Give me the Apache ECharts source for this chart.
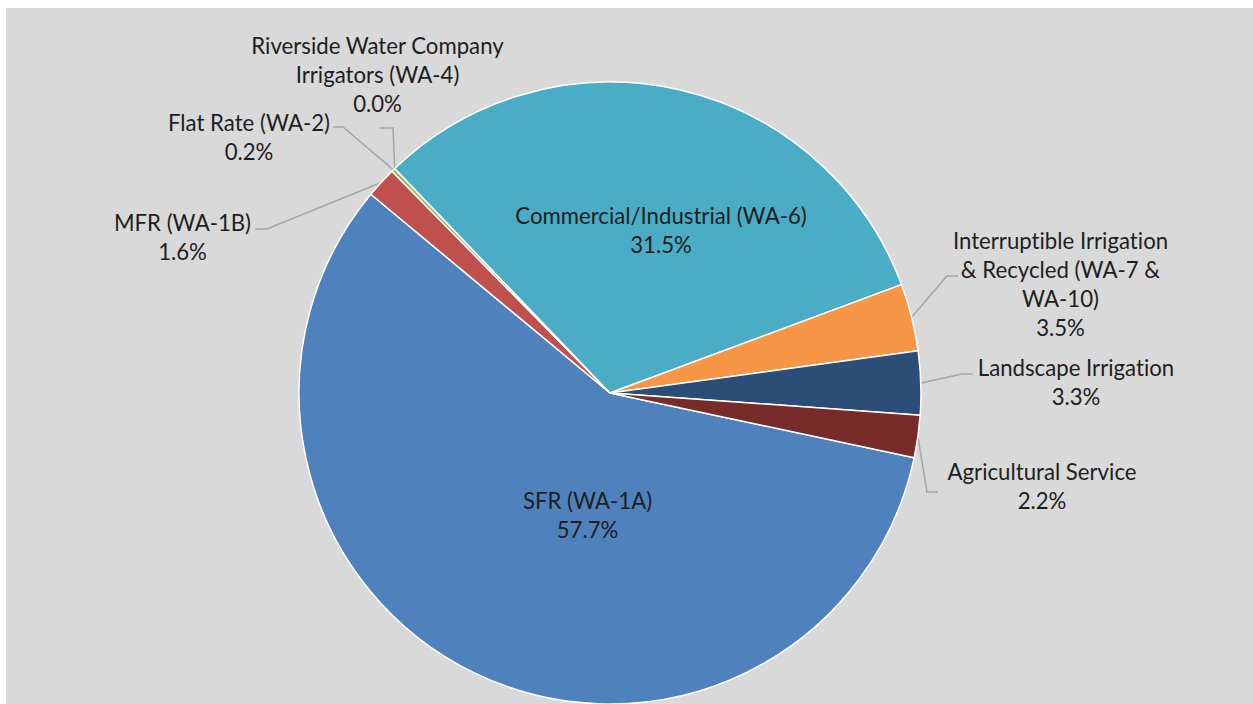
<!DOCTYPE html>
<html>
<head>
<meta charset="utf-8">
<script src="https://cdn.jsdelivr.net/npm/echarts@6/dist/echarts.min.js"></script>
<style>
  html, body { margin: 0; padding: 0; background: #ffffff; }
  #chart { position: absolute; left: 6px; top: 8px; width: 1247px; height: 696px; }
  #chart text { font-variant-ligatures: none; font-feature-settings: "liga" 0, "clig" 0; }
</style>
</head>
<body>
<div id="chart"></div>
<script>
// Share of water sales by customer class (percent)
const categories = [
  'SFR (WA-1A)',
  'MFR (WA-1B)',
  'Flat Rate (WA-2)',
  'Riverside Water Company\nIrrigators (WA-4)',
  'Commercial/Industrial (WA-6)',
  'Interruptible Irrigation\n& Recycled (WA-7 &\nWA-10)',
  'Landscape Irrigation',
  'Agricultural Service'
];
const shares = [57.7, 1.6, 0.2, 0.0, 31.5, 3.5, 3.3, 2.2];
const sliceColors = ['#4f81bd', '#c0504d', '#9bbb59', '#8064a2', '#4bacc6', '#f79646', '#2c4d75', '#772c2a'];

// Which labels sit inside their slice
const insideLabel = [true, false, false, false, true, false, false, false];

// Label block centres and leader-line elbow/end points (chart pixels)
const labelSpots = [
  { x: 581.5, y: 506.5 },
  { x: 176.5, y: 228.5, line: [[261, 221], [249, 221]] },
  { x: 243, y: 128.5, line: [[337, 119], [327, 119]] },
  { x: 371.5, y: 66.5, line: [[387, 120], [374, 120]] },
  { x: 655, y: 221.5 },
  { x: 1054.5, y: 275.5, line: [[941, 268], [952, 268]] },
  { x: 1070, y: 374, line: [[956, 366], [967, 366]] },
  { x: 1036, y: 477.5, line: [[921, 484], [932, 484]] }
];

const chart = echarts.init(document.getElementById('chart'), null, { renderer: 'svg' });

const pieData = categories.map(function (name, i) {
  const item = { name: name, value: shares[i], itemStyle: { color: sliceColors[i] } };
  if (insideLabel[i]) {
    item.label = { position: 'inside' };
    item.labelLine = { show: false };
  }
  return item;
});

chart.setOption({
  backgroundColor: '#d9d9d9',
  animation: false,
  series: [{
    type: 'pie',
    center: [604, 385],
    radius: 311,
    startAngle: 348,
    clockwise: true,
    avoidLabelOverlap: false,
    minShowLabelAngle: 0,
    itemStyle: { borderColor: '#ffffff', borderWidth: 1.5 },
    emphasis: { disabled: true },
    label: {
      show: true,
      position: 'outside',
      fontFamily: 'Lato',
      fontSize: 22.2,
      lineHeight: 29,
      color: '#1e1e1e',
      align: 'center',
      formatter: function (p) { return p.name + '\n' + p.value.toFixed(1) + '%'; }
    },
    labelLine: {
      show: true,
      length: 20,
      length2: 10,
      lineStyle: { color: '#a6a6a6', width: 1.5 }
    },
    labelLayout: function (params) {
      const spot = labelSpots[params.dataIndex];
      const out = { x: spot.x, y: spot.y, align: 'center', verticalAlign: 'middle' };
      if (spot.line && params.labelLinePoints) {
        out.labelLinePoints = [params.labelLinePoints[0], spot.line[0], spot.line[1]];
      }
      return out;
    },
    data: pieData
  }]
});
</script>
</body>
</html>
